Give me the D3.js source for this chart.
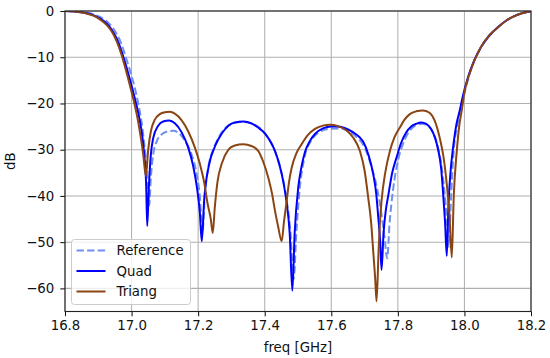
<!DOCTYPE html>
<html>
<head>
<meta charset="utf-8">
<script src="https://cdn.jsdelivr.net/npm/d3@7"></script>
<style>
body { margin: 0; background: #fff; }
text { font-family: "DejaVu Sans", sans-serif; }
</style>
</head>
<body>
<script>
var width = 550,
    height = 358;

// tick labels
var xTicks = [16.8, 17.0, 17.2, 17.4, 17.6, 17.8, 18.0, 18.2];
var yTicks = [0, -10, -20, -30, -40, -50, -60];

// series (freq in GHz, level in dB)
var refFreq = [16.80, 16.83, 16.86, 16.885, 16.905, 16.925, 16.94, 16.955, 16.97, 16.985, 17.00, 17.01, 17.02, 17.03, 17.04, 17.047, 17.053, 17.058, 17.065, 17.075, 17.09, 17.105, 17.125, 17.14, 17.16, 17.18, 17.195, 17.205, 17.213, 17.22, 17.23, 17.245, 17.26, 17.28, 17.30, 17.336, 17.37, 17.40, 17.43, 17.45, 17.465, 17.477, 17.487, 17.495, 17.505, 17.52, 17.54, 17.56, 17.59, 17.626, 17.65, 17.675, 17.70, 17.72, 17.738, 17.75, 17.76, 17.768, 17.775, 17.785, 17.80, 17.815, 17.83, 17.85, 17.872, 17.89, 17.905, 17.918, 17.93, 17.94, 17.947, 17.953, 17.96, 17.968, 17.978, 17.99, 18.00, 18.017, 18.047, 18.075, 18.10, 18.125, 18.15, 18.175, 18.20];
var refDb = [0, -0.08, -0.3, -0.7, -1.3, -2.2, -3.3, -4.9, -7.2, -10.5, -14, -16.7, -20, -24, -30, -35, -42, -36, -31, -28.3, -26.7, -26.1, -25.9, -26.3, -28, -31, -35, -40, -48, -40, -34, -30, -27.6, -25.4, -24.4, -24.0, -24.6, -26.4, -30.2, -34.8, -40.5, -47.5, -58, -48, -38.5, -31.5, -28, -26.4, -25.5, -25.4, -25.9, -27.2, -29.5, -33.5, -38.5, -43.5, -49, -53.5, -46, -39, -32.5, -28.8, -26.5, -24.9, -24.4, -24.8, -26.2, -28.8, -33, -39, -45, -51, -40, -30, -25, -20.5, -17.8, -13.3, -8.2, -5.3, -3.6, -2.1, -1.1, -0.45, -0.05];

var quadFreq = [16.80, 16.83, 16.86, 16.885, 16.905, 16.925, 16.94, 16.955, 16.97, 16.98, 16.99, 17.00, 17.01, 17.02, 17.03, 17.038, 17.044, 17.047, 17.052, 17.058, 17.065, 17.08, 17.095, 17.113, 17.13, 17.15, 17.17, 17.185, 17.197, 17.205, 17.211, 17.218, 17.232, 17.251, 17.271, 17.291, 17.31, 17.336, 17.36, 17.38, 17.401, 17.42, 17.431, 17.445, 17.456, 17.466, 17.475, 17.483, 17.49, 17.501, 17.511, 17.521, 17.535, 17.551, 17.575, 17.60, 17.616, 17.64, 17.665, 17.685, 17.696, 17.712, 17.726, 17.735, 17.741, 17.747, 17.751, 17.757, 17.764, 17.771, 17.783, 17.796, 17.81, 17.825, 17.84, 17.855, 17.871, 17.885, 17.90, 17.912, 17.921, 17.93, 17.936, 17.942, 17.947, 17.952, 17.958, 17.966, 17.976, 17.986, 17.995, 18.01, 18.03, 18.05, 18.075, 18.10, 18.125, 18.15, 18.175, 18.20];
var quadDb = [0, -0.1, -0.4, -0.9, -1.6, -2.7, -4.0, -5.9, -8.7, -11, -13.5, -16.1, -19, -22, -26, -31, -38, -46.5, -38, -31, -27.5, -24.8, -23.9, -23.7, -24.3, -26.2, -29.5, -33.5, -38.5, -43.5, -49.8, -41, -33.5, -29.2, -26.5, -24.8, -24.1, -23.9, -24.3, -25.2, -26.5, -28.6, -30.3, -33.5, -37, -41.5, -48, -60.5, -48, -38, -33.5, -30.5, -28.2, -26.6, -25.4, -25.0, -25.0, -25.3, -26.2, -27.3, -28.3, -31.2, -35.3, -39.5, -44.5, -50, -56, -48, -43, -40, -35, -31.7, -28.5, -26.3, -25, -24.4, -24.1, -24.4, -25.5, -27.5, -30, -34, -39.5, -46, -53, -42, -35, -29.5, -24.5, -21.5, -18.5, -14.5, -10.6, -7.8, -5.3, -3.5, -2.1, -1.1, -0.45, -0.05];

var triFreq = [16.80, 16.83, 16.86, 16.885, 16.905, 16.925, 16.94, 16.955, 16.97, 16.98, 16.99, 17.00, 17.01, 17.02, 17.028, 17.035, 17.043, 17.05, 17.058, 17.07, 17.085, 17.10, 17.115, 17.13, 17.15, 17.17, 17.19, 17.205, 17.218, 17.228, 17.238, 17.244, 17.25, 17.258, 17.271, 17.291, 17.31, 17.336, 17.36, 17.381, 17.395, 17.411, 17.422, 17.431, 17.44, 17.451, 17.458, 17.466, 17.473, 17.481, 17.495, 17.511, 17.53, 17.551, 17.575, 17.596, 17.62, 17.645, 17.665, 17.686, 17.70, 17.711, 17.72, 17.726, 17.732, 17.736, 17.742, 17.746, 17.751, 17.762, 17.776, 17.79, 17.806, 17.82, 17.836, 17.855, 17.875, 17.895, 17.91, 17.926, 17.937, 17.947, 17.955, 17.962, 17.968, 17.977, 17.985, 17.992, 18.00, 18.017, 18.047, 18.075, 18.097, 18.125, 18.147, 18.175, 18.20];
var triDb = [0, -0.1, -0.45, -1.0, -1.8, -3.0, -4.4, -6.5, -9.5, -12, -14.7, -17.5, -20.5, -24, -27.5, -31, -35.7, -30, -26, -23.5, -22.3, -21.9, -21.8, -22.2, -23.6, -26, -29.5, -33, -37, -41.5, -45, -48, -42.5, -37, -33, -30, -29.1, -28.8, -29.2, -30.3, -32.5, -36.1, -39.5, -43.3, -46.5, -49.8, -45.5, -41.1, -37, -33.9, -30.8, -28.8, -26.8, -25.5, -24.8, -24.6, -24.9, -25.8, -27.3, -30.3, -34.5, -40.4, -46, -52, -58, -62.8, -52, -46, -41.1, -35, -30.3, -27.3, -25.2, -23.5, -22.3, -21.7, -21.5, -22, -23.6, -27.5, -31.5, -37.5, -44, -53.3, -40, -30.3, -24.5, -21.5, -17.6, -13.2, -8.1, -5.2, -3.8, -2.1, -1.2, -0.45, -0.05];

var seriesNames = ["Reference", "Quad", "Triang"];
var seriesColors = ["#6f8ff2", "#0000ff", "#8b4513"];

var margin = {left: 65, top: 11, right: 19, bottom: 46.5};
var fontSize = "13.33px";

var svg = d3.select("body")
    .append("svg")
    .attr("width", width)
    .attr("height", height);

var x = d3.scaleLinear().domain([16.8, 18.2]).range([margin.left, width - margin.right]);
var y = d3.scaleLinear().domain([-65, 0]).range([height - margin.bottom, margin.top]);

// grid
svg.append("g").selectAll("line").data(xTicks).enter().append("line")
    .attr("x1", function(d) { return x(d); }).attr("x2", function(d) { return x(d); })
    .attr("y1", y(-65)).attr("y2", y(0))
    .attr("stroke", "#b0b0b0").attr("stroke-width", 1.05);
svg.append("g").selectAll("line").data(yTicks).enter().append("line")
    .attr("y1", function(d) { return y(d); }).attr("y2", function(d) { return y(d); })
    .attr("x1", x(16.8)).attr("x2", x(18.2))
    .attr("stroke", "#b0b0b0").attr("stroke-width", 1.05);

svg.append("clipPath").attr("id", "plot")
    .append("rect")
    .attr("x", x(16.8)).attr("y", y(0))
    .attr("width", x(18.2) - x(16.8)).attr("height", y(-65) - y(0));

var line = d3.line()
    .x(function(d) { return x(d[0]); })
    .y(function(d) { return y(d[1]); })
    .curve(d3.curveMonotoneX);

var series = [
    {name: seriesNames[0], freq: refFreq, db: refDb, dash: "7.4,3.2"},
    {name: seriesNames[1], freq: quadFreq, db: quadDb, dash: null},
    {name: seriesNames[2], freq: triFreq, db: triDb, dash: null}
];

var plot = svg.append("g").attr("clip-path", "url(#plot)");
series.forEach(function(s, i) {
    plot.append("path")
        .datum(d3.zip(s.freq, s.db))
        .attr("d", line)
        .attr("fill", "none")
        .attr("stroke", seriesColors[i])
        .attr("stroke-width", 2)
        .attr("stroke-dasharray", s.dash)
        .attr("stroke-linejoin", "round");
});

// axes
var xAxis = svg.append("g")
    .attr("transform", "translate(0," + y(-65) + ")")
    .call(d3.axisBottom(x).tickValues(xTicks).tickFormat(d3.format(".1f")).tickSize(4.7).tickPadding(4.5));
var yAxis = svg.append("g")
    .attr("transform", "translate(" + x(16.8) + ",0)")
    .call(d3.axisLeft(y).tickValues(yTicks).tickFormat(d3.format("d")).tickSize(4.7).tickPadding(6));

[xAxis, yAxis].forEach(function(a) {
    a.select(".domain").remove();
    a.selectAll("text").attr("font-size", fontSize).attr("fill", "#111").style("font-family", "DejaVu Sans");
    a.selectAll("line").attr("stroke", "#111").attr("stroke-width", 1.05);
});

// spines
svg.append("rect")
    .attr("x", x(16.8)).attr("y", y(0))
    .attr("width", x(18.2) - x(16.8)).attr("height", y(-65) - y(0))
    .attr("fill", "none").attr("stroke", "#222").attr("stroke-width", 1.1);

svg.append("text")
    .attr("x", (x(16.8) + x(18.2)) / 2).attr("y", 352)
    .attr("text-anchor", "middle").attr("font-size", fontSize).attr("fill", "#111")
    .text("freq [GHz]");

svg.append("text")
    .attr("transform", "translate(15," + ((y(0) + y(-65)) / 2) + ") rotate(-90)")
    .attr("text-anchor", "middle").attr("font-size", fontSize).attr("fill", "#111")
    .text("dB");

// legend
var legend = svg.append("g").attr("transform", "translate(71.5,239.5)");
legend.append("rect")
    .attr("width", 119).attr("height", 65).attr("rx", 3)
    .attr("fill", "#fff").attr("fill-opacity", 0.8)
    .attr("stroke", "#cccccc").attr("stroke-width", 1);
series.forEach(function(s, i) {
    var ly = 11 + i * 20.5;
    legend.append("line")
        .attr("x1", 5).attr("x2", 34).attr("y1", ly).attr("y2", ly)
        .attr("stroke", seriesColors[i]).attr("stroke-width", 2)
        .attr("stroke-dasharray", s.dash);
    legend.append("text")
        .attr("x", 45).attr("y", ly).attr("dy", "0.35em")
        .attr("font-size", fontSize).attr("fill", "#111")
        .text(s.name);
});
</script>
</body>
</html>
